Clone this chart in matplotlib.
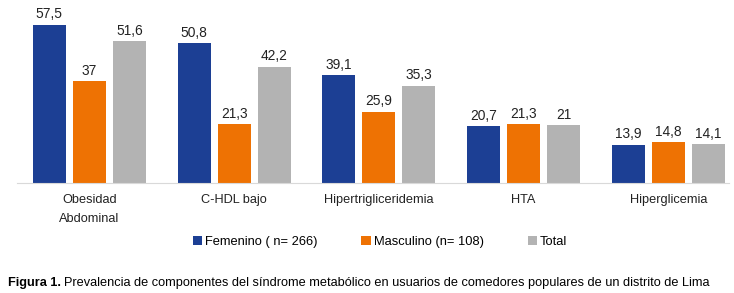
import matplotlib.pyplot as plt
import numpy as np

plt.rcParams['font.family'] = ['Liberation Sans', 'DejaVu Sans']

categories = ['Obesidad\nAbdominal', 'C-HDL bajo', 'Hipertrigliceridemia', 'HTA', 'Hiperglicemia']
femenino = [57.5, 50.8, 39.1, 20.7, 13.9]
masculino = [37, 21.3, 25.9, 21.3, 14.8]
total = [51.6, 42.2, 35.3, 21, 14.1]
series_names = ['Femenino ( n= 266)', 'Masculino (n= 108)', 'Total']
colors = ['#1c3f94', '#ee7203', '#b3b3b3']

W, H = 734, 293
fig = plt.figure(figsize=(W / 100, H / 100), dpi=100)
ax = fig.add_axes([17 / W, 1 - 183 / H, (729 - 17) / W, (183 - 18) / H])

x = np.arange(len(categories))
width = 0.228
offset = 0.276
for k, (vals, col) in enumerate(zip([femenino, masculino, total], colors)):
    pos = x + (k - 1) * offset
    ax.bar(pos, vals, width, color=col, label=series_names[k])
    for p, v in zip(pos, vals):
        ax.annotate(f'{v:g}'.replace('.', ','), (p, v), xytext=(0, 2.5),
                    textcoords='offset points', ha='center', va='bottom',
                    fontsize=9.9, color='#222222', annotation_clip=False)

ax.set_xlim(-0.5, 4.42)
ax.set_ylim(0, 60)
ax.set_yticks([])
ax.set_xticks(x)
ax.set_xticklabels(categories, fontsize=9.2, color='#222222', linespacing=1.75)
ax.tick_params(axis='x', length=0, pad=8)
for s in ['top', 'right', 'left']:
    ax.spines[s].set_visible(False)
ax.spines['bottom'].set_color('#d9d9d9')

handles, labels = ax.get_legend_handles_labels()
fig.legend(handles, labels, loc='center', bbox_to_anchor=(380 / W, 1 - 242 / H),
           ncol=3, frameon=False, fontsize=9.3, handlelength=0.7, handleheight=0.7,
           handletextpad=0.25, columnspacing=3.4, borderpad=0)

# caption
t1 = fig.text(8 / W, 1 - 283 / H, 'Figura 1.', fontsize=9.2, fontweight='bold', va='center')
fig.canvas.draw()
bb = t1.get_window_extent()
fig.text((bb.x1 + 3) / W, 1 - 283 / H,
         'Prevalencia de componentes del síndrome metabólico en usuarios de comedores populares de un distrito de Lima',
         fontsize=9.2, va='center')

fig.savefig('out.png', dpi=100)
